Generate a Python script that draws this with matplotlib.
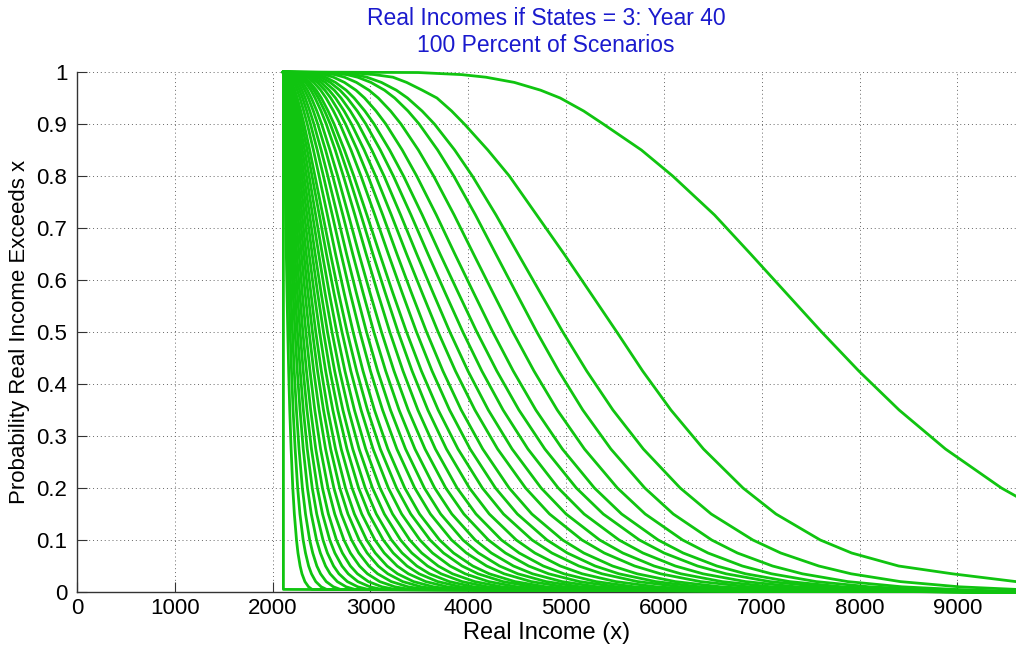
import matplotlib.pyplot as plt

plt.rcParams['font.family'] = ['Liberation Sans', 'DejaVu Sans']

prob_levels = [0.999, 0.995, 0.99, 0.98, 0.965, 0.95, 0.925, 0.9, 0.85, 0.8, 0.725,
               0.65, 0.575, 0.5, 0.425, 0.35, 0.275, 0.2, 0.15, 0.1, 0.075, 0.05,
               0.035, 0.02, 0.01, 0.005]

# Lowest income (all curves start at P=1 here) and where the tails run out on the x axis
floor_income = 2110
tail_income = 9700

# Income at each probability level, one row per scenario curve (left to right)
income_at_level = [
    [2110] * 26,
    [2110, 2111, 2112, 2113, 2114, 2116, 2117, 2119, 2123, 2127, 2133, 2140, 2147, 2155, 2164, 2175, 2189, 2206, 2222, 2244, 2259, 2281, 2300, 2330, 2367, 2403],
    [2111, 2112, 2113, 2115, 2117, 2119, 2122, 2125, 2131, 2137, 2146, 2156, 2167, 2179, 2193, 2209, 2230, 2256, 2279, 2312, 2336, 2368, 2397, 2441, 2496, 2551],
    [2111, 2113, 2114, 2117, 2120, 2122, 2127, 2131, 2139, 2147, 2159, 2172, 2187, 2203, 2221, 2243, 2270, 2304, 2336, 2379, 2410, 2452, 2490, 2548, 2621, 2692],
    [2112, 2114, 2116, 2119, 2123, 2126, 2132, 2137, 2148, 2158, 2174, 2190, 2209, 2229, 2252, 2280, 2313, 2356, 2395, 2449, 2488, 2541, 2588, 2661, 2751, 2840],
    [2112, 2115, 2118, 2121, 2126, 2131, 2138, 2144, 2156, 2169, 2188, 2208, 2230, 2254, 2282, 2314, 2354, 2405, 2451, 2515, 2560, 2623, 2678, 2764, 2870, 2975],
    [2113, 2116, 2119, 2124, 2130, 2136, 2144, 2151, 2166, 2181, 2203, 2227, 2253, 2281, 2313, 2351, 2397, 2457, 2510, 2584, 2636, 2709, 2773, 2872, 2994, 3115],
    [2113, 2118, 2122, 2127, 2135, 2141, 2151, 2160, 2177, 2194, 2220, 2247, 2277, 2309, 2346, 2389, 2441, 2509, 2570, 2653, 2713, 2795, 2867, 2979, 3118, 3254],
    [2114, 2120, 2124, 2131, 2139, 2147, 2158, 2169, 2189, 2208, 2238, 2270, 2303, 2340, 2382, 2431, 2490, 2566, 2635, 2729, 2795, 2888, 2969, 3095, 3250, 3403],
    [2115, 2122, 2127, 2135, 2145, 2154, 2167, 2179, 2202, 2224, 2258, 2294, 2332, 2373, 2420, 2475, 2541, 2626, 2702, 2807, 2881, 2984, 3074, 3213, 3385, 3555],
    [2116, 2124, 2130, 2139, 2151, 2161, 2176, 2190, 2216, 2241, 2279, 2319, 2361, 2407, 2459, 2520, 2593, 2686, 2770, 2885, 2966, 3079, 3178, 3330, 3518, 3703],
    [2117, 2126, 2133, 2144, 2157, 2169, 2186, 2201, 2230, 2258, 2301, 2344, 2391, 2441, 2498, 2564, 2643, 2745, 2836, 2961, 3049, 3170, 3277, 3441, 3644, 3843],
    [2118, 2129, 2137, 2150, 2165, 2178, 2197, 2214, 2247, 2278, 2325, 2373, 2425, 2480, 2542, 2615, 2701, 2812, 2911, 3046, 3141, 3273, 3388, 3566, 3785, 4000],
    [2119, 2132, 2141, 2156, 2173, 2187, 2209, 2228, 2265, 2299, 2351, 2404, 2460, 2520, 2587, 2666, 2760, 2879, 2985, 3131, 3233, 3374, 3497, 3688, 3922, 4152],
    [2121, 2135, 2146, 2162, 2181, 2197, 2221, 2243, 2283, 2321, 2378, 2435, 2496, 2561, 2634, 2718, 2819, 2947, 3060, 3215, 3324, 3474, 3604, 3807, 4054, 4298],
    [2122, 2138, 2151, 2169, 2191, 2209, 2236, 2260, 2304, 2346, 2408, 2471, 2536, 2607, 2685, 2776, 2884, 3021, 3142, 3308, 3423, 3583, 3722, 3937, 4199, 4458],
    [2124, 2142, 2156, 2177, 2201, 2222, 2251, 2278, 2327, 2373, 2440, 2508, 2579, 2655, 2739, 2836, 2952, 3098, 3226, 3402, 3524, 3693, 3839, 4067, 4342, 4615],
    [2126, 2147, 2163, 2186, 2213, 2236, 2269, 2299, 2353, 2403, 2477, 2550, 2627, 2709, 2799, 2904, 3027, 3183, 3319, 3506, 3635, 3814, 3969, 4209, 4499, 4787],
    [2130, 2153, 2171, 2197, 2227, 2252, 2288, 2321, 2379, 2433, 2513, 2592, 2674, 2762, 2859, 2970, 3101, 3267, 3412, 3610, 3747, 3937, 4100, 4354, 4661, 4965],
    [2139, 2168, 2188, 2218, 2251, 2279, 2318, 2354, 2417, 2475, 2560, 2643, 2731, 2823, 2924, 3041, 3178, 3351, 3502, 3707, 3850, 4046, 4215, 4478, 4795, 5108],
    [2147, 2181, 2204, 2237, 2275, 2306, 2349, 2387, 2456, 2519, 2610, 2700, 2793, 2892, 3000, 3124, 3270, 3453, 3613, 3830, 3981, 4188, 4367, 4644, 4978, 5308],
    [2156, 2195, 2222, 2259, 2300, 2333, 2380, 2422, 2496, 2564, 2661, 2756, 2856, 2960, 3074, 3205, 3359, 3551, 3718, 3946, 4104, 4320, 4507, 4796, 5144, 5487],
    [2167, 2212, 2242, 2283, 2328, 2365, 2416, 2461, 2541, 2614, 2718, 2819, 2925, 3035, 3156, 3293, 3455, 3657, 3832, 4071, 4236, 4462, 4657, 4958, 5321, 5678],
    [2177, 2227, 2261, 2306, 2356, 2396, 2452, 2501, 2586, 2665, 2775, 2883, 2996, 3113, 3241, 3386, 3558, 3770, 3955, 4206, 4380, 4617, 4822, 5137, 5518, 5892],
    [2190, 2248, 2285, 2335, 2391, 2434, 2495, 2548, 2640, 2723, 2841, 2956, 3075, 3198, 3333, 3485, 3664, 3886, 4079, 4340, 4521, 4767, 4979, 5306, 5700, 6087],
    [2201, 2264, 2305, 2360, 2420, 2467, 2532, 2589, 2688, 2778, 2903, 3025, 3152, 3283, 3426, 3587, 3777, 4012, 4215, 4491, 4681, 4941, 5164, 5509, 5923, 6330],
    [2210, 2278, 2323, 2382, 2447, 2498, 2567, 2628, 2734, 2830, 2964, 3095, 3229, 3369, 3521, 3693, 3895, 4144, 4360, 4653, 4855, 5131, 5367, 5732, 6172, 6603],
    [2227, 2305, 2355, 2420, 2491, 2546, 2622, 2688, 2801, 2903, 3045, 3183, 3325, 3471, 3630, 3809, 4019, 4278, 4502, 4805, 5013, 5297, 5541, 5916, 6367, 6809],
    [2244, 2331, 2386, 2457, 2534, 2594, 2675, 2745, 2866, 2975, 3126, 3271, 3420, 3574, 3741, 3928, 4148, 4418, 4650, 4965, 5181, 5475, 5727, 6116, 6582, 7038],
    [2260, 2356, 2416, 2494, 2578, 2643, 2731, 2806, 2936, 3053, 3214, 3369, 3529, 3692, 3869, 4068, 4300, 4586, 4831, 5163, 5391, 5701, 5966, 6375, 6865, 7343],
    [2280, 2387, 2453, 2538, 2630, 2699, 2794, 2875, 3014, 3139, 3309, 3473, 3641, 3812, 3997, 4205, 4448, 4745, 5000, 5344, 5580, 5900, 6174, 6595, 7100, 7593],
    [2303, 2422, 2495, 2588, 2688, 2763, 2865, 2953, 3101, 3234, 3415, 3588, 3765, 3945, 4139, 4356, 4610, 4920, 5184, 5542, 5786, 6117, 6400, 6835, 7355, 7862],
    [2329, 2461, 2541, 2642, 2752, 2833, 2943, 3037, 3196, 3338, 3530, 3712, 3899, 4088, 4292, 4518, 4783, 5105, 5380, 5750, 6002, 6344, 6636, 7083, 7619, 8139],
    [2385, 2533, 2622, 2734, 2852, 2940, 3057, 3157, 3325, 3473, 3674, 3863, 4056, 4251, 4460, 4691, 4962, 5290, 5568, 5942, 6197, 6542, 6836, 7285, 7822, 8342],
    [2468, 2635, 2735, 2857, 2985, 3080, 3206, 3312, 3490, 3646, 3856, 4054, 4254, 4456, 4672, 4910, 5188, 5525, 5809, 6192, 6451, 6802, 7101, 7557, 8102, 8630],
    [2567, 2758, 2869, 3005, 3144, 3248, 3384, 3498, 3687, 3852, 4074, 4282, 4491, 4701, 4925, 5171, 5458, 5805, 6096, 6489, 6752, 7111, 7416, 7880, 8433, 8969],
    [2628, 2839, 2963, 3112, 3265, 3379, 3528, 3654, 3861, 4042, 4284, 4510, 4738, 4967, 5211, 5479, 5790, 6167, 6484, 6910, 7195, 7584, 7915, 8418, 9018, 9599],
    [2780, 3040, 3230, 3370, 3530, 3680, 3830, 3960, 4200, 4420, 4700, 4980, 5250, 5519, 5783, 6072, 6405, 6809, 7146, 7599, 7920, 8400, 8950, 9600, 10400, 11200],
    [3491, 3932, 4181, 4471, 4740, 4940, 5180, 5380, 5770, 6090, 6518, 6887, 7250, 7613, 7993, 8405, 8879, 9451, 9924, 10557, 10970, 11537, 12021, 12742, 13600, 14431],
]

x_ticks = [0, 1000, 2000, 3000, 4000, 5000, 6000, 7000, 8000, 9000]
y_ticks = [0, 0.1, 0.2, 0.3, 0.4, 0.5, 0.6, 0.7, 0.8, 0.9, 1]
y_tick_labels = ['0', '0.1', '0.2', '0.3', '0.4', '0.5', '0.6', '0.7', '0.8', '0.9', '1']

line_color = '#10c410'
title_color = '#1a1acd'

fig = plt.figure(figsize=(10.16, 6.47), dpi=100)
ax = fig.add_axes([0.0758, 0.085, 0.9242, 0.8037])

# One survival curve per scenario
for row in income_at_level:
    xs = [floor_income] + list(row)
    ys = [1.0] + list(prob_levels)
    if row[-1] < tail_income:
        xs.append(tail_income)
        ys.append(0.0)
    ax.plot(xs, ys, color=line_color, linewidth=2.0, clip_on=False, zorder=3)

ax.set_xlim(0, 9600)
ax.set_ylim(0, 1)
ax.set_xticks(x_ticks)
ax.set_yticks(y_ticks)
ax.set_yticklabels(y_tick_labels)

ax.grid(True, linestyle=(0, (1, 3)), color='0.4', linewidth=0.7)
ax.set_axisbelow(True)

for side in ['top', 'right']:
    ax.spines[side].set_visible(False)
for side in ['left', 'bottom']:
    ax.spines[side].set_color('0.2')
    ax.spines[side].set_linewidth(1.0)

ax.tick_params(direction='in', length=7, width=0.8, color='0.2', labelsize=16)
ax.tick_params(axis='x', pad=4.5)
ax.tick_params(axis='y', pad=7)

ax.set_xlabel('Real Income (x)', fontsize=17)
ax.xaxis.set_label_coords(0.5, -0.058)
ax.set_ylabel('Probability Real Income Exceeds x', fontsize=16)
ax.yaxis.set_label_coords(-0.05, 0.5)

fig.text(0.5374, 0.972, 'Real Incomes if States = 3: Year 40', color=title_color,
         fontsize=16.5, ha='center', va='center')
fig.text(0.5374, 0.929, '100 Percent of Scenarios', color=title_color,
         fontsize=16.5, ha='center', va='center')

plt.savefig('out.png', dpi=100)
